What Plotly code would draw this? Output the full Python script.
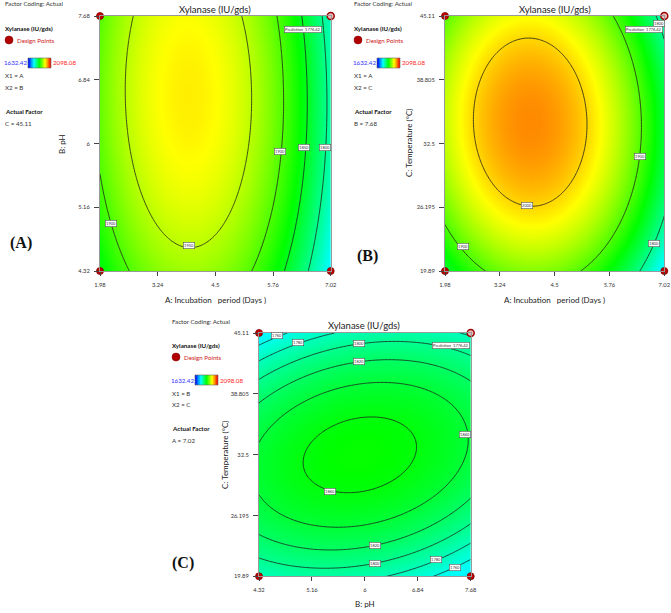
import numpy as np
import plotly.graph_objects as go

W, H = 671, 613

# ---------------- data ----------------
A_range = [1.98, 7.02]          # A: Incubation period (Days)
B_range = [4.32, 7.68]          # B: pH
C_range = [19.89, 45.11]        # C: Temperature (°C)
A_ticks = [1.98, 3.24, 4.5, 5.76, 7.02]
B_ticks = [4.32, 5.16, 6, 6.84, 7.68]
C_ticks = [19.89, 26.195, 32.5, 38.805, 45.11]
A_ticktext = ["1.98", "3.24", "4.5", "5.76", "7.02"]
B_ticktext = ["4.32", "5.16", "6", "6.84", "7.68"]
C_ticktext = ["19.89", "26.195", "32.5", "38.805", "45.11"]
color_min, color_max = 1632.42, 2098.08
prediction_value = 1776.42

# quadratic response-surface model (coded factors), estimated from the contour lines
model_intercept = 2053.26
model_linear = [-54.30, 0.81, 6.44]            # A, B, C
model_interaction = [-3.38, -5.76, 19.41]      # AB, AC, BC
model_quadratic = [-131.49, -27.40, -81.13]    # A², B², C²

# contour levels per panel (start, end, step)
levels_A = [1800, 1950, 50]
levels_B = [1800, 2000, 100]
levels_C = [1760, 1860, 20]

# contour labels: (text, x, y) in actual units
labels_A = [("1950", 3.92, 4.65), ("1900", 2.22, 4.94), ("1900", 5.91, 5.90),
            ("1850", 6.44, 5.95), ("1800", 6.90, 5.95)]
labels_B = [("2000", 3.87, 26.4), ("1900", 6.45, 31.2), ("1900", 2.40, 22.3),
            ("1800", 6.79, 22.6), ("1800", 6.90, 44.4)]
labels_C = [("1760", 4.60, 44.8), ("1780", 4.94, 44.1), ("1800", 5.91, 44.0),
            ("1820", 5.91, 42.2), ("1840", 7.59, 34.6), ("1860", 5.45, 28.7),
            ("1820", 6.16, 23.1), ("1800", 6.16, 21.2), ("1780", 7.13, 21.6),
            ("1760", 7.43, 20.8)]

RANGES = {"A": A_range, "B": B_range, "C": C_range}


def coded(name, v):
    lo, hi = RANGES[name]
    return (np.asarray(v, dtype=float) - (lo + hi) / 2) / ((hi - lo) / 2)


def model(a, b, c):
    la, lb, lc = model_linear
    iab, iac, ibc = model_interaction
    qa, qb, qc = model_quadratic
    return (model_intercept + la * a + lb * b + lc * c + iab * a * b + iac * a * c + ibc * b * c
            + qa * a ** 2 + qb * b ** 2 + qc * c ** 2)


CS = [[0, "#0000ff"], [0.25, "#00ffff"], [0.5, "#00ff00"], [0.75, "#ffff00"], [1, "#ff0000"]]
FONT = "Lato"

panels = [
    dict(xf="A", yf="B", ff="C", fv=45.11, px=(100, 330.7), py=(16, 271),
         lev=levels_A, xt="A: Incubation\u00a0\u00a0\u00a0period (Days\u00a0)", yt="B: pH",
         block=(3, 4), x1="A", x2="B", af="C = 45.11", tag="(A)", tagpos=(8, 243),
         ytpos=(62, 144), xtpos=(215, 300), ttl=(215, 9), labels=labels_A, flag=(321.5, 29.5)),
    dict(xf="A", yf="C", ff="B", fv=7.68, px=(445, 664.3), py=(16, 271),
         lev=levels_B, xt="A: Incubation\u00a0\u00a0\u00a0period (Days\u00a0)", yt="C: Temperature (\u00b0C)",
         block=(352, 4), x1="A", x2="C", af="B = 7.68", tag="(B)", tagpos=(355, 256),
         ytpos=(409, 143), xtpos=(554.5, 300), ttl=(554.5, 9), labels=labels_B, flag=(663, 30)),
    dict(xf="B", yf="C", ff="A", fv=7.02, px=(259, 470.7), py=(333, 576.3),
         lev=levels_C, xt="B: pH", yt="C: Temperature (\u00b0C)",
         block=(170, 321), x1="B", x2="C", af="A = 7.02", tag="(C)", tagpos=(170, 563),
         ytpos=(225, 455), xtpos=(365, 604), ttl=(364.5, 325), labels=labels_C, flag=(470, 345)),
]

TICKS = {"A": (A_ticks, A_ticktext), "B": (B_ticks, B_ticktext), "C": (C_ticks, C_ticktext)}

fig = go.Figure()
annotations = []
shapes = []


def ann(text, px, py, size=6.2, color="#333", xanchor="left", yanchor="middle", family=FONT, **kw):
    annotations.append(dict(text=text, x=px / W, y=1 - py / H, xref="paper", yref="paper",
                            xanchor=xanchor, yanchor=yanchor, showarrow=False,
                            font=dict(size=size, color=color, family=family), **kw))


layout_axes = {}
for i, p in enumerate(panels, start=1):
    xs_axis = "x" if i == 1 else f"x{i}"
    ys_axis = "y" if i == 1 else f"y{i}"
    xr, yr = RANGES[p["xf"]], RANGES[p["yf"]]
    xs = np.linspace(xr[0], xr[1], 161)
    ys = np.linspace(yr[0], yr[1], 161)
    XX, YY = np.meshgrid(xs, ys)
    vals = {p["xf"]: coded(p["xf"], XX), p["yf"]: coded(p["yf"], YY),
            p["ff"]: coded(p["ff"], np.full_like(XX, p["fv"]))}
    Z = model(vals["A"], vals["B"], vals["C"])
    fig.add_trace(go.Heatmap(x=xs, y=ys, z=Z, colorscale=CS, zmin=color_min, zmax=color_max,
                             zsmooth="best", showscale=False, hoverinfo="skip",
                             xaxis=xs_axis, yaxis=ys_axis))
    fig.add_trace(go.Contour(x=xs, y=ys, z=Z, showscale=False, hoverinfo="skip",
                             contours=dict(coloring="none", start=p["lev"][0], end=p["lev"][1],
                                           size=p["lev"][2]),
                             line=dict(color="#1e1e1e", width=0.8),
                             xaxis=xs_axis, yaxis=ys_axis))
    # design points (corners)
    fig.add_trace(go.Scatter(x=[xr[0], xr[0], xr[1]], y=[yr[0], yr[1], yr[0]], mode="markers",
                             marker=dict(size=7, color="#c00000", line=dict(color="#800000", width=0.8)),
                             cliponaxis=False, hoverinfo="skip", xaxis=xs_axis, yaxis=ys_axis))
    fig.add_trace(go.Scatter(x=[xr[1]], y=[yr[1]], mode="markers",
                             marker=dict(size=7, color="#e9b9b9", line=dict(color="#a00000", width=1.5)),
                             cliponaxis=False, hoverinfo="skip", xaxis=xs_axis, yaxis=ys_axis))
    tv, tt = TICKS[p["xf"]]
    layout_axes[f"xaxis{'' if i == 1 else i}"] = dict(
        domain=[p["px"][0] / W, p["px"][1] / W], anchor=ys_axis, range=xr, tickvals=tv, ticktext=tt,
        ticks="outside", ticklen=4, tickcolor="#444", tickfont=dict(size=5.8, color="#333", family=FONT),
        showline=True, linecolor="#999", linewidth=1, mirror=True, showgrid=False, zeroline=False,
        ticklabelstandoff=4, automargin=False)
    tv, tt = TICKS[p["yf"]]
    layout_axes[f"yaxis{'' if i == 1 else i}"] = dict(
        domain=[1 - p["py"][1] / H, 1 - p["py"][0] / H], anchor=xs_axis, range=yr, tickvals=tv, ticktext=tt,
        ticks="outside", ticklen=5, tickcolor="#444", tickfont=dict(size=5.8, color="#333", family=FONT),
        showline=True, linecolor="#999", linewidth=1, mirror=True, showgrid=False, zeroline=False,
        ticklabelstandoff=3, automargin=False)

    # titles
    ann("Xylanase (IU/gds)", p["ttl"][0], p["ttl"][1], size=9.5, color="#222", xanchor="center")
    ann(p["xt"], p["xtpos"][0], p["xtpos"][1], size=8, color="#222", xanchor="center")
    ann(p["yt"], p["ytpos"][0], p["ytpos"][1], size=8, color="#222", xanchor="center", textangle=-90)

    # left information block
    bx, by = p["block"]
    ann("Factor Coding: Actual", bx, by, color="#333")
    ann("<b>Xylanase (IU/gds)</b>", bx, by + 24, color="#111")
    shapes.append(dict(type="circle", xref="paper", yref="paper", xsizemode="pixel", ysizemode="pixel",
                       xanchor=(bx + 6) / W, yanchor=1 - (by + 36) / H, x0=-4, x1=4, y0=-4, y1=4,
                       fillcolor="#b00000", line=dict(color="#800000", width=0.5)))
    ann("Design Points", bx + 12, by + 36, color="#d02020")
    ann("1632.42", bx - 1, by + 59, color="#3030ff")
    ann("2098.08", bx + 48, by + 59, color="#ff2020")
    ann("X1 = " + p["x1"], bx, by + 72, color="#333")
    ann("X2 = " + p["x2"], bx, by + 83, color="#333")
    ann("<b>Actual Factor</b>", bx, by + 107, color="#111")
    ann(p["af"], bx, by + 119, color="#333")
    ann("<b>" + p["tag"] + "</b>", p["tagpos"][0], p["tagpos"][1], size=16, color="#111",
        family="Liberation Serif")

    # small color legend bar
    j = i + 3
    fig.add_trace(go.Heatmap(z=[np.linspace(color_min, color_max, 60)], colorscale=CS,
                             zmin=color_min, zmax=color_max, showscale=False, hoverinfo="skip",
                             xaxis=f"x{j}", yaxis=f"y{j}"))
    layout_axes[f"xaxis{j}"] = dict(domain=[(bx + 25) / W, (bx + 48) / W], anchor=f"y{j}", visible=False,
                                    range=[-0.5, 59.5])
    layout_axes[f"yaxis{j}"] = dict(domain=[1 - (by + 64) / H, 1 - (by + 54) / H], anchor=f"x{j}",
                                    visible=False, range=[-0.5, 0.5])
    shapes.append(dict(type="rect", xref="paper", yref="paper", x0=(bx + 25) / W, x1=(bx + 48) / W,
                       y0=1 - (by + 64) / H, y1=1 - (by + 54) / H, line=dict(color="#666", width=0.6)))

    # contour labels (boxed)
    for txt, lx, ly in p["labels"]:
        annotations.append(dict(text=txt, x=lx, y=ly, xref=xs_axis, yref=ys_axis, showarrow=False,
                                font=dict(size=4, color="#333", family=FONT), bgcolor="white",
                                bordercolor="#555", borderwidth=0.6, borderpad=0.5))
    # prediction flag
    ann(f"Prediction\u00a0\u00a0{prediction_value:.2f}", p["flag"][0], p["flag"][1], size=4, color="#333",
        xanchor="right", bgcolor="white", bordercolor="#555", borderwidth=0.6, borderpad=0.5)

fig.update_layout(width=W, height=H, margin=dict(l=0, r=0, t=0, b=0, pad=0, autoexpand=False),
                  paper_bgcolor="white", plot_bgcolor="white", showlegend=False, hovermode=False,
                  annotations=annotations, shapes=shapes, **layout_axes)
fig.write_html("out.html", config={"displayModeBar": False, "staticPlot": True},
               post_script="document.body.style.margin='0';")
